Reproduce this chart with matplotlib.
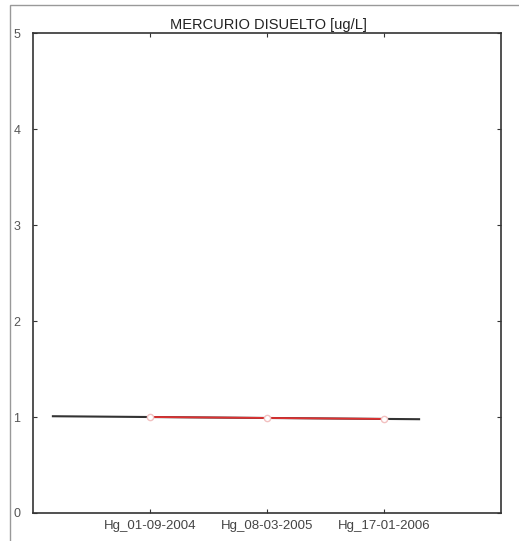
import matplotlib
matplotlib.use("Agg")
import matplotlib.pyplot as plt
from matplotlib.patches import Rectangle

# Sample dates and dissolved mercury values (ug/L)
categories = ["Hg_01-09-2004", "Hg_08-03-2005", "Hg_17-01-2006"]
values = [1.0, 0.99, 0.98]
# trend line end points (x in category units, y in ug/L)
trend_x = [0.17, 3.3]
trend_y = [1.008, 0.977]
y_ticks = [0, 1, 2, 3, 4, 5]

plt.rcParams['font.family'] = ['Liberation Sans', 'DejaVu Sans']

fig = plt.figure(figsize=(5.19, 5.41), dpi=100)
ax = fig.add_axes([0.0636, 0.0518, 0.9017, 0.887])

# outer frame of the original page
fig.patches.append(Rectangle((10 / 519, -0.05), 1.1, 1 - 5 / 541 + 0.05,
                             transform=fig.transFigure, fill=False,
                             edgecolor='#999999', linewidth=1.0))

xs = list(range(1, len(categories) + 1))
ax.plot(trend_x, trend_y, color='#333333', linewidth=1.5, zorder=2)
ax.plot(xs, values, color='#e03030', linewidth=1.3, zorder=3)
ax.plot(xs, values, linestyle='none', marker='o', markersize=4.5,
        markerfacecolor='white', markeredgecolor='#f2c0c0', zorder=4)

ax.set_xlim(0, 4)
ax.set_ylim(0, 5)
ax.set_xticks(xs)
ax.set_xticklabels(categories, fontsize=9.5, color='#444444')
ax.set_yticks(y_ticks)
ax.set_yticklabels([str(t) for t in y_ticks], fontsize=9, color='#555555')
ax.tick_params(direction='in', length=3, top=True, right=True,
               color='#333333', pad=5)
ax.tick_params(axis='y', pad=9)
for s in ax.spines.values():
    s.set_color('#333333')
    s.set_linewidth(1.2)

fig.text(0.517, 1 - 25 / 541, "MERCURIO DISUELTO [ug/L]", ha='center',
         va='center', fontsize=10.5, color='#222222')

fig.savefig("out.png", dpi=100)
